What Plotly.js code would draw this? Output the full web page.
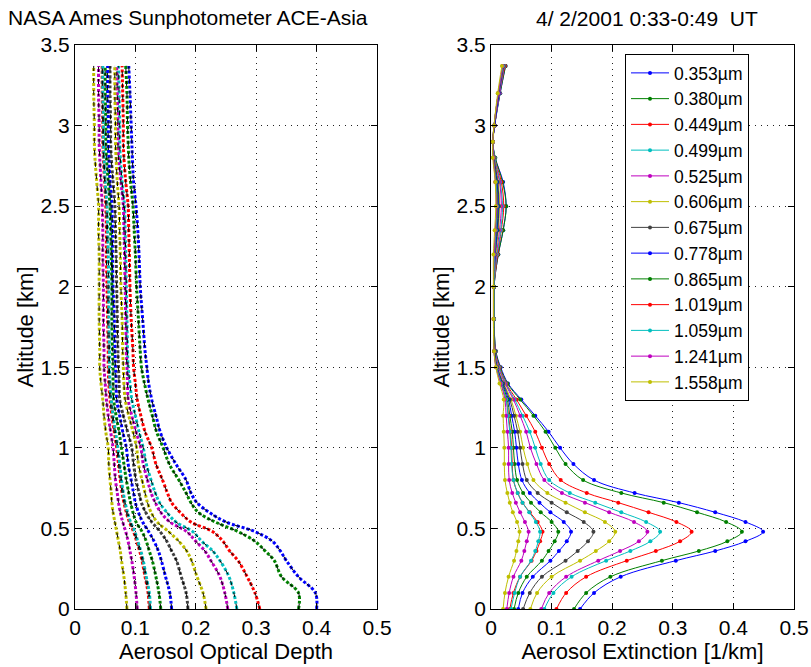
<!DOCTYPE html>
<html>
<head>
<meta charset="utf-8">
<script src="https://cdn.plot.ly/plotly-3.0.1.min.js"></script>
<style>html,body{margin:0;padding:0;background:#fff;}#chart{width:811px;height:667px;}</style>
</head>
<body>
<div id="chart"></div>
<script>
// Altitude levels [km]
const ALT = [0,0.1,0.2,0.3,0.36,0.42,0.48,0.54,0.6,0.66,0.72,0.8,0.9,1.0,1.1,1.2,1.3,1.4,1.5,1.6,1.8,2.0,2.2,2.35,2.5,2.65,2.8,2.9,3.0,3.2,3.37];

const WAVELENGTHS = ['0.353\u00b5m','0.380\u00b5m','0.449\u00b5m','0.499\u00b5m','0.525\u00b5m','0.606\u00b5m','0.675\u00b5m','0.778\u00b5m','0.865\u00b5m','1.019\u00b5m','1.059\u00b5m','1.241\u00b5m','1.558\u00b5m'];

// Aerosol optical depth profiles
const aod_0353 = [0.400,0.398,0.370,0.350,0.340,0.327,0.298,0.250,0.222,0.202,0.192,0.184,0.167,0.152,0.141,0.134,0.127,0.122,0.119,0.116,0.112,0.108,0.106,0.104,0.101,0.097,0.095,0.094,0.093,0.091,0.089];
const aod_0380 = [0.370,0.370,0.342,0.330,0.315,0.298,0.270,0.232,0.204,0.192,0.184,0.172,0.156,0.146,0.135,0.128,0.121,0.115,0.110,0.108,0.105,0.102,0.100,0.098,0.096,0.092,0.089,0.088,0.087,0.086,0.084];
const aod_0449 = [0.306,0.298,0.285,0.270,0.256,0.245,0.228,0.192,0.174,0.160,0.153,0.145,0.134,0.127,0.116,0.109,0.103,0.100,0.097,0.096,0.093,0.091,0.090,0.089,0.088,0.084,0.081,0.080,0.080,0.079,0.078];
const aod_0499 = [0.268,0.263,0.255,0.240,0.228,0.210,0.195,0.167,0.152,0.140,0.133,0.126,0.118,0.113,0.106,0.100,0.094,0.091,0.088,0.087,0.086,0.085,0.084,0.083,0.082,0.078,0.075,0.074,0.074,0.073,0.072];
const aod_0525 = [0.253,0.248,0.240,0.225,0.215,0.200,0.185,0.157,0.142,0.133,0.126,0.120,0.113,0.109,0.101,0.094,0.088,0.087,0.086,0.085,0.084,0.083,0.082,0.081,0.080,0.076,0.072,0.071,0.071,0.070,0.069];
const aod_0606 = [0.217,0.212,0.202,0.193,0.185,0.172,0.155,0.136,0.126,0.120,0.116,0.111,0.105,0.102,0.096,0.089,0.083,0.081,0.080,0.079,0.078,0.076,0.075,0.074,0.073,0.070,0.068,0.067,0.067,0.066,0.066];
const aod_0675 = [0.187,0.184,0.176,0.168,0.160,0.152,0.141,0.127,0.117,0.110,0.106,0.101,0.097,0.094,0.087,0.080,0.074,0.073,0.072,0.071,0.070,0.069,0.068,0.067,0.066,0.063,0.060,0.059,0.059,0.058,0.058];
const aod_0778 = [0.160,0.157,0.150,0.143,0.138,0.131,0.122,0.112,0.105,0.100,0.097,0.093,0.088,0.085,0.079,0.074,0.069,0.068,0.067,0.066,0.065,0.063,0.062,0.062,0.061,0.058,0.056,0.055,0.055,0.054,0.054];
const aod_0865 = [0.142,0.139,0.134,0.128,0.123,0.118,0.111,0.101,0.096,0.092,0.089,0.085,0.081,0.077,0.073,0.068,0.064,0.063,0.063,0.062,0.061,0.061,0.060,0.059,0.058,0.055,0.052,0.051,0.051,0.050,0.050];
const aod_1019 = [0.123,0.121,0.116,0.111,0.107,0.102,0.097,0.090,0.085,0.081,0.078,0.075,0.072,0.069,0.065,0.061,0.058,0.056,0.055,0.055,0.054,0.053,0.052,0.052,0.051,0.049,0.047,0.046,0.046,0.045,0.045];
const aod_1059 = [0.125,0.123,0.118,0.113,0.109,0.104,0.099,0.092,0.087,0.083,0.080,0.077,0.074,0.071,0.067,0.063,0.060,0.058,0.057,0.057,0.056,0.056,0.055,0.054,0.053,0.050,0.048,0.047,0.047,0.046,0.046];
const aod_1241 = [0.103,0.101,0.098,0.094,0.091,0.088,0.084,0.079,0.075,0.072,0.070,0.067,0.065,0.063,0.059,0.055,0.052,0.050,0.048,0.048,0.047,0.047,0.046,0.046,0.045,0.043,0.041,0.040,0.040,0.039,0.039];
const aod_1558 = [0.086,0.084,0.081,0.077,0.075,0.072,0.069,0.066,0.063,0.061,0.060,0.058,0.056,0.055,0.051,0.048,0.046,0.043,0.041,0.041,0.040,0.040,0.040,0.039,0.039,0.036,0.033,0.032,0.032,0.031,0.031];

// Aerosol extinction profiles [1/km]
const ext_0353 = [0.147,0.170,0.214,0.305,0.370,0.420,0.449,0.420,0.370,0.310,0.237,0.170,0.136,0.114,0.095,0.073,0.050,0.028,0.016,0.008,0.005,0.005,0.012,0.020,0.025,0.020,0.007,0.003,0.006,0.015,0.024];
const ext_0380 = [0.137,0.157,0.197,0.282,0.343,0.390,0.414,0.388,0.340,0.285,0.215,0.152,0.123,0.106,0.090,0.070,0.048,0.027,0.015,0.008,0.005,0.005,0.012,0.020,0.025,0.019,0.007,0.003,0.006,0.015,0.024];
const ext_0449 = [0.108,0.124,0.157,0.224,0.272,0.312,0.331,0.306,0.260,0.210,0.158,0.115,0.096,0.084,0.073,0.058,0.042,0.025,0.014,0.007,0.005,0.005,0.011,0.017,0.021,0.017,0.006,0.003,0.006,0.014,0.023];
const ext_0499 = [0.088,0.103,0.133,0.190,0.230,0.263,0.279,0.256,0.215,0.172,0.130,0.096,0.082,0.073,0.064,0.052,0.039,0.024,0.013,0.007,0.005,0.005,0.010,0.016,0.019,0.015,0.006,0.003,0.006,0.014,0.022];
const ext_0525 = [0.083,0.096,0.124,0.177,0.213,0.244,0.258,0.236,0.195,0.155,0.117,0.088,0.075,0.065,0.058,0.048,0.037,0.023,0.012,0.007,0.005,0.005,0.009,0.014,0.017,0.014,0.005,0.003,0.006,0.014,0.022];
const ext_0606 = [0.065,0.076,0.100,0.147,0.173,0.195,0.205,0.188,0.155,0.123,0.093,0.070,0.060,0.053,0.048,0.041,0.033,0.021,0.011,0.006,0.005,0.005,0.008,0.012,0.014,0.012,0.005,0.003,0.006,0.013,0.021];
const ext_0675 = [0.053,0.064,0.084,0.123,0.143,0.160,0.169,0.153,0.125,0.100,0.077,0.059,0.052,0.048,0.044,0.038,0.031,0.020,0.010,0.006,0.005,0.005,0.007,0.011,0.013,0.011,0.005,0.003,0.006,0.013,0.021];
const ext_0778 = [0.045,0.052,0.069,0.098,0.112,0.125,0.132,0.120,0.098,0.080,0.064,0.051,0.045,0.042,0.039,0.034,0.029,0.019,0.010,0.006,0.005,0.005,0.007,0.010,0.012,0.010,0.004,0.003,0.006,0.013,0.020];
const ext_0865 = [0.038,0.045,0.059,0.084,0.095,0.105,0.111,0.100,0.082,0.066,0.053,0.043,0.039,0.037,0.035,0.031,0.027,0.018,0.009,0.006,0.005,0.005,0.006,0.009,0.011,0.009,0.004,0.003,0.005,0.012,0.020];
const ext_1019 = [0.031,0.037,0.048,0.067,0.075,0.081,0.085,0.077,0.064,0.052,0.044,0.037,0.035,0.034,0.032,0.029,0.025,0.017,0.009,0.005,0.005,0.005,0.006,0.008,0.010,0.008,0.004,0.003,0.005,0.012,0.020];
const ext_1059 = [0.033,0.039,0.048,0.066,0.073,0.078,0.081,0.074,0.063,0.052,0.044,0.037,0.034,0.033,0.031,0.028,0.025,0.017,0.009,0.005,0.005,0.005,0.006,0.008,0.010,0.008,0.004,0.003,0.005,0.012,0.020];
const ext_1241 = [0.026,0.030,0.037,0.050,0.055,0.059,0.062,0.056,0.048,0.041,0.035,0.030,0.029,0.029,0.027,0.025,0.023,0.016,0.008,0.005,0.004,0.004,0.005,0.007,0.009,0.007,0.004,0.003,0.005,0.012,0.019];
const ext_1558 = [0.020,0.023,0.029,0.038,0.042,0.045,0.047,0.043,0.036,0.031,0.027,0.023,0.022,0.022,0.021,0.020,0.021,0.014,0.008,0.005,0.004,0.004,0.004,0.006,0.008,0.007,0.003,0.003,0.005,0.011,0.018];

const AOD = [aod_0353,aod_0380,aod_0449,aod_0499,aod_0525,aod_0606,aod_0675,aod_0778,aod_0865,aod_1019,aod_1059,aod_1241,aod_1558];
const EXT = [ext_0353,ext_0380,ext_0449,ext_0499,ext_0525,ext_0606,ext_0675,ext_0778,ext_0865,ext_1019,ext_1059,ext_1241,ext_1558];
const COLORS = ['#0000ff','#008000','#ff0000','#00bfbf','#bf00bf','#bfbf00','#404040','#0000ff','#008000','#ff0000','#00bfbf','#bf00bf','#bfbf00'];

const FONT = 'Liberation Sans, Arial, Helvetica, sans-serif';
const traces = [];
// Left: measured AOD (dots)
AOD.forEach((a, i) => {
  traces.push({x: a, y: ALT, xaxis: 'x', yaxis: 'y', type: 'scatter', mode: 'lines',
    line: {color: COLORS[i], width: 3, dash: '3px,2px', shape: 'spline'},
    showlegend: false, hoverinfo: 'skip'});
});
// Left: fitted AOD (black dashed)
AOD.forEach((a, i) => {
  traces.push({x: a, y: ALT, xaxis: 'x', yaxis: 'y', type: 'scatter', mode: 'lines',
    line: {color: '#000000', width: 1, dash: '5px,7px', shape: 'spline'},
    showlegend: false, hoverinfo: 'skip'});
});
// Right: extinction
EXT.forEach((e, i) => {
  traces.push({x: e, y: ALT, xaxis: 'x2', yaxis: 'y2', type: 'scatter', mode: 'lines+markers',
    name: WAVELENGTHS[i],
    line: {color: COLORS[i], width: 1, shape: 'spline'},
    marker: {color: COLORS[i], size: 4, symbol: 'circle'}});
});

const axisCommon = {
  showline: true, linecolor: '#000', linewidth: 1, mirror: 'ticks',
  ticks: 'inside', ticklen: 6, tickcolor: '#000', tickwidth: 1,
  showgrid: true, gridcolor: '#222', gridwidth: 1, griddash: '1px,5px',
  zeroline: false, automargin: false, tickfont: {family: FONT, size: 21, color: '#000'}
};

const layout = {
  width: 811, height: 667,
  margin: {l: 75, r: 17, t: 45, b: 58, autoexpand: false},
  paper_bgcolor: '#fff', plot_bgcolor: '#fff',
  font: {family: FONT, size: 21, color: '#000'},
  showlegend: true,
  title: {text: 'NASA Ames Sunphotometer ACE-Asia', font: {family: FONT, size: 21, color: '#000'},
    x: 8/811, xanchor: 'left', xref: 'container', y: 1 - 18/667, yanchor: 'middle', yref: 'container'},
  xaxis: Object.assign({}, axisCommon, {domain: [0, 0.42], range: [0, 0.5], tick0: 0, dtick: 0.1, anchor: 'y',
    title: {text: 'Aerosol Optical Depth', font: {family: FONT, size: 22}, standoff: 3}}),
  yaxis: Object.assign({}, axisCommon, {domain: [0, 1], range: [0, 3.5], tick0: 0, dtick: 0.5, anchor: 'x',
    title: {text: 'Altitude [km]', font: {family: FONT, size: 22}, standoff: 0}}),
  xaxis2: Object.assign({}, axisCommon, {domain: [0.5786, 1], range: [0, 0.5], tick0: 0, dtick: 0.1, anchor: 'y2',
    title: {text: 'Aerosol Extinction [1/km]', font: {family: FONT, size: 22}, standoff: 3}}),
  yaxis2: Object.assign({}, axisCommon, {domain: [0, 1], range: [0, 3.5], tick0: 0, dtick: 0.5, anchor: 'x2',
    title: {text: 'Altitude [km]', font: {family: FONT, size: 22}, standoff: 0}}),
  legend: {x: (625-75)/719, xref: 'paper', y: 1 - (54-45)/564, yref: 'paper', xanchor: 'left', yanchor: 'top',
    bgcolor: '#fff', bordercolor: '#000', borderwidth: 1, font: {family: FONT, size: 17.5, color: '#000'},
    tracegroupgap: 0, itemwidth: 38},
  annotations: [{text: '4/ 2/2001 0:33-0:49&nbsp; UT', xref: 'paper', yref: 'paper',
    x: (647-75)/719, y: 1 + (45-18)/564, xanchor: 'center', yanchor: 'middle', showarrow: false,
    font: {family: FONT, size: 21, color: '#000'}}]
};

Plotly.newPlot('chart', traces, layout, {displayModeBar: false, staticPlot: true});
</script>
</body>
</html>
